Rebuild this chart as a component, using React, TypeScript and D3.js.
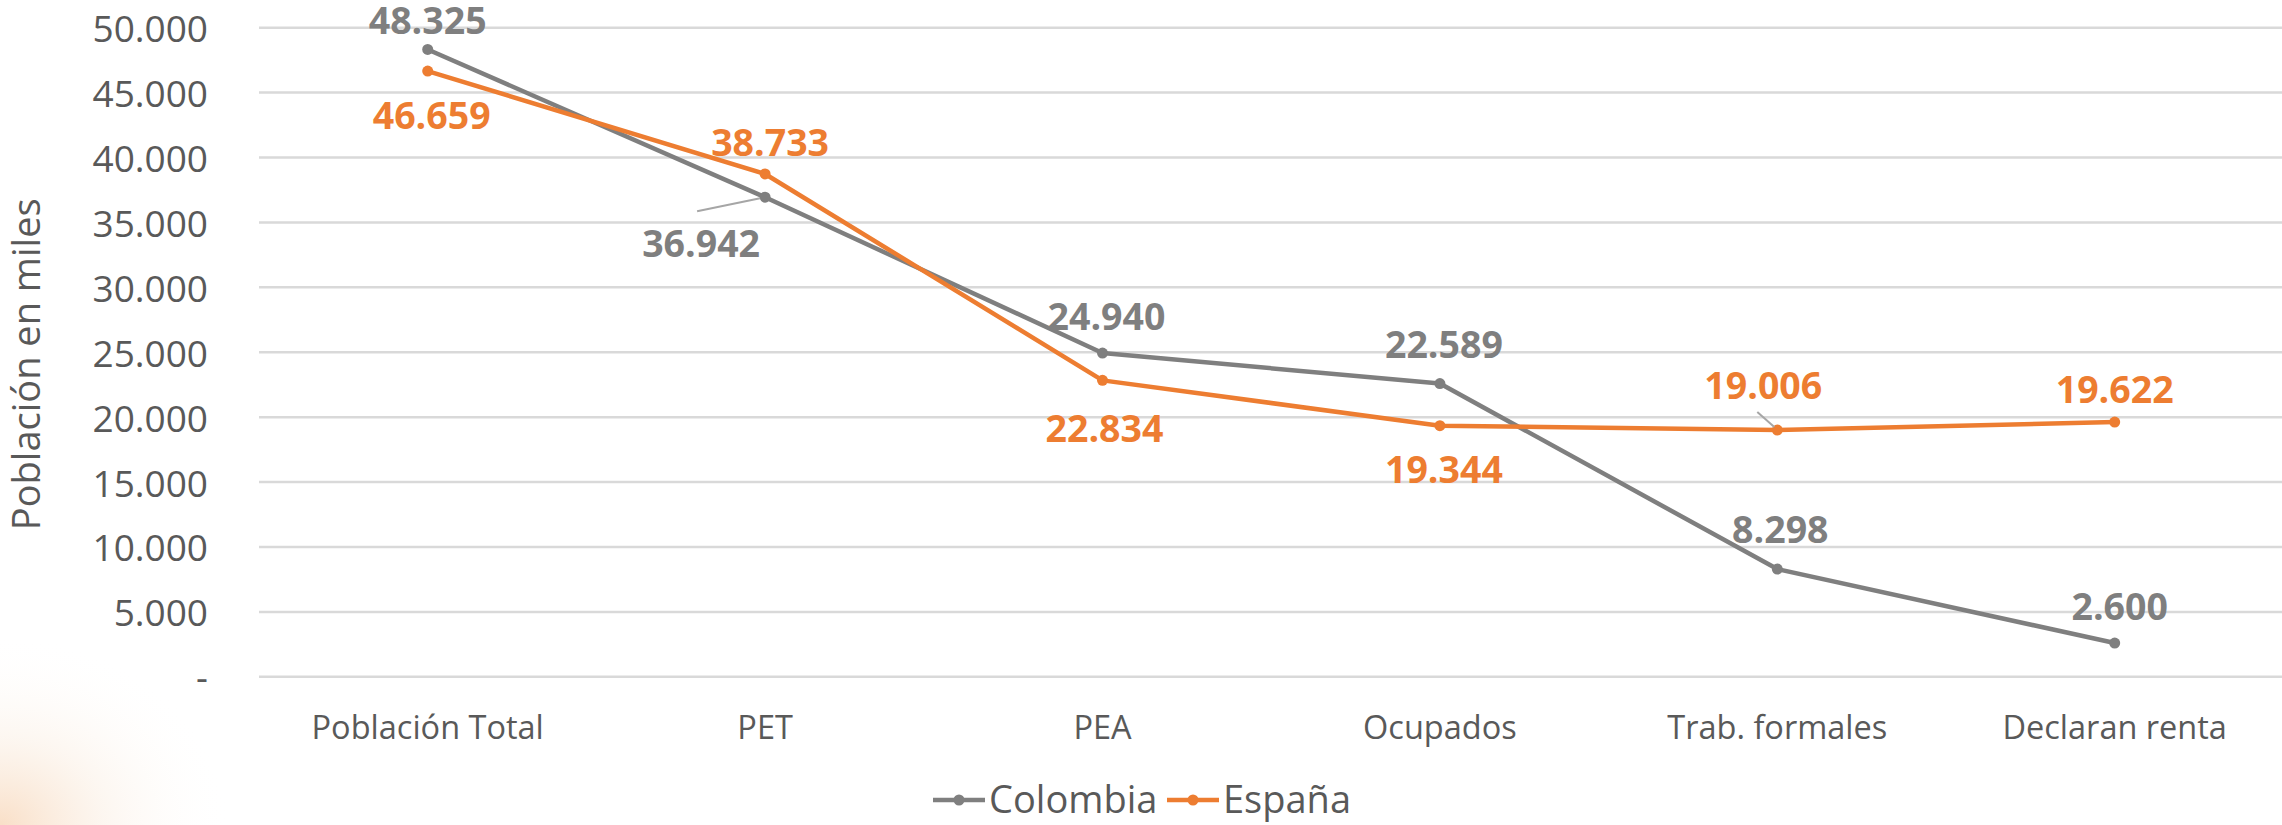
import React from 'react';
import * as d3 from 'd3';

const categories = ['Población Total', 'PET', 'PEA', 'Ocupados', 'Trab. formales', 'Declaran renta'];
const colombia = [48325, 36942, 24940, 22589, 8298, 2600];
const espana = [46659, 38733, 22834, 19344, 19006, 19622];
const yTicks = [0, 5000, 10000, 15000, 20000, 25000, 30000, 35000, 40000, 45000, 50000];
const seriesNames = ['Colombia', 'España'];

// label placement (style): dx, dy relative to the point, optional leader
const colLabelPos = [
  { dx: 0, dy: -30 },
  { dx: -64, dy: 45, leader: [[-68, 14], [-5, 1]] },
  { dx: 4, dy: -38 },
  { dx: 4, dy: -40 },
  { dx: 3, dy: -41 },
  { dx: 5, dy: -38 },
];
const espLabelPos = [
  { dx: 4, dy: 43 },
  { dx: 5, dy: -32 },
  { dx: 2, dy: 47 },
  { dx: 4, dy: 43 },
  { dx: -14, dy: -46, leader: [[-20, -18], [-3, -3]] },
  { dx: 0, dy: -34 },
];

const W = 2282;
const H = 825;
const GRAY = '#7F7F7F';
const ORANGE = '#ED7D31';
const TEXT = '#595959';
const FONT = "'Open Sans', 'Noto Sans', sans-serif";

const locale = d3.formatLocale({ decimal: ',', thousands: '.', grouping: [3], currency: ['', ''] });
const fmt = locale.format(',d');
const tickFmt = (v: number) => (v === 0 ? '-' : fmt(v));

export default function App() {
  const x = d3.scaleBand<string>().domain(categories).range([259, 2283.4]).paddingInner(0).paddingOuter(0);
  const cx = (c: string) => (x(c) as number) + x.bandwidth() / 2;
  const y = d3.scaleLinear().domain([0, 50000]).range([676.8, 27.7]);

  const line = d3
    .line<number>()
    .x((_, i) => cx(categories[i]))
    .y((d) => y(d));

  const series = [
    { name: seriesNames[0], values: colombia, color: GRAY, pos: colLabelPos },
    { name: seriesNames[1], values: espana, color: ORANGE, pos: espLabelPos },
  ];

  return (
    <svg
      width={W}
      height={H}
      style={{ position: 'absolute', left: 0, top: 0, background: '#fff' }}
      fontFamily={FONT}
    >
      <defs>
        <radialGradient id="glow" cx="0" cy="1" r="1">
          <stop offset="0%" stopColor="#F4C59A" stopOpacity="0.55" />
          <stop offset="45%" stopColor="#F8E6D4" stopOpacity="0.35" />
          <stop offset="100%" stopColor="#ffffff" stopOpacity="0" />
        </radialGradient>
      </defs>
      <rect x={0} y={H - 190} width={230} height={190} fill="url(#glow)" />

      {/* gridlines */}
      {yTicks.map((t) => (
        <line key={'g' + t} x1={259} x2={W} y1={y(t)} y2={y(t)} stroke="#D9D9D9" strokeWidth={2.5} />
      ))}

      {/* y tick labels */}
      {yTicks.map((t) => (
        <text
          key={'t' + t}
          x={208}
          y={y(t)}
          textAnchor="end"
          dominantBaseline="central"
          fontSize={37}
          fill={TEXT}
        >
          {tickFmt(t)}
        </text>
      ))}

      {/* y axis title */}
      <text
        transform={`translate(25, ${(y(0) + y(50000)) / 2 + 12}) rotate(-90)`}
        textAnchor="middle"
        dominantBaseline="central"
        fontSize={38}
        fill={TEXT}
      >
        Población en miles
      </text>

      {/* category labels */}
      {categories.map((c) => (
        <text key={c} x={cx(c)} y={726} textAnchor="middle" dominantBaseline="central" fontSize={32.5} fill={TEXT}>
          {c}
        </text>
      ))}

      {/* lines */}
      {series.map((s) => (
        <g key={s.name}>
          <path d={line(s.values) as string} fill="none" stroke={s.color} strokeWidth={4.5} strokeLinejoin="round" />
          {s.values.map((v, i) => (
            <circle key={i} cx={cx(categories[i])} cy={y(v)} r={5.5} fill={s.color} />
          ))}
        </g>
      ))}

      {/* leaders & data labels */}
      {series.map((s) =>
        s.values.map((v, i) => {
          const px = cx(categories[i]);
          const py = y(v);
          const p = s.pos[i] as any;
          return (
            <g key={s.name + i}>
              {p.leader && (
                <line
                  x1={px + p.leader[0][0]}
                  y1={py + p.leader[0][1]}
                  x2={px + p.leader[1][0]}
                  y2={py + p.leader[1][1]}
                  stroke="#A6A6A6"
                  strokeWidth={2}
                />
              )}
              <text
                x={px + p.dx}
                y={py + p.dy}
                textAnchor="middle"
                dominantBaseline="central"
                fontSize={37.5}
                fontWeight={700}
                fill={s.color}
              >
                {fmt(v)}
              </text>
            </g>
          );
        })
      )}

      {/* legend */}
      {series.map((s, i) => {
        const lx = i === 0 ? 933 : 1167;
        return (
          <g key={'leg' + s.name}>
            <line x1={lx} x2={lx + 52} y1={800} y2={800} stroke={s.color} strokeWidth={4.5} />
            <circle cx={lx + 26} cy={800} r={5.5} fill={s.color} />
            <text x={lx + 56} y={798} dominantBaseline="central" fontSize={38} fill={TEXT}>
              {s.name}
            </text>
          </g>
        );
      })}
    </svg>
  );
}
